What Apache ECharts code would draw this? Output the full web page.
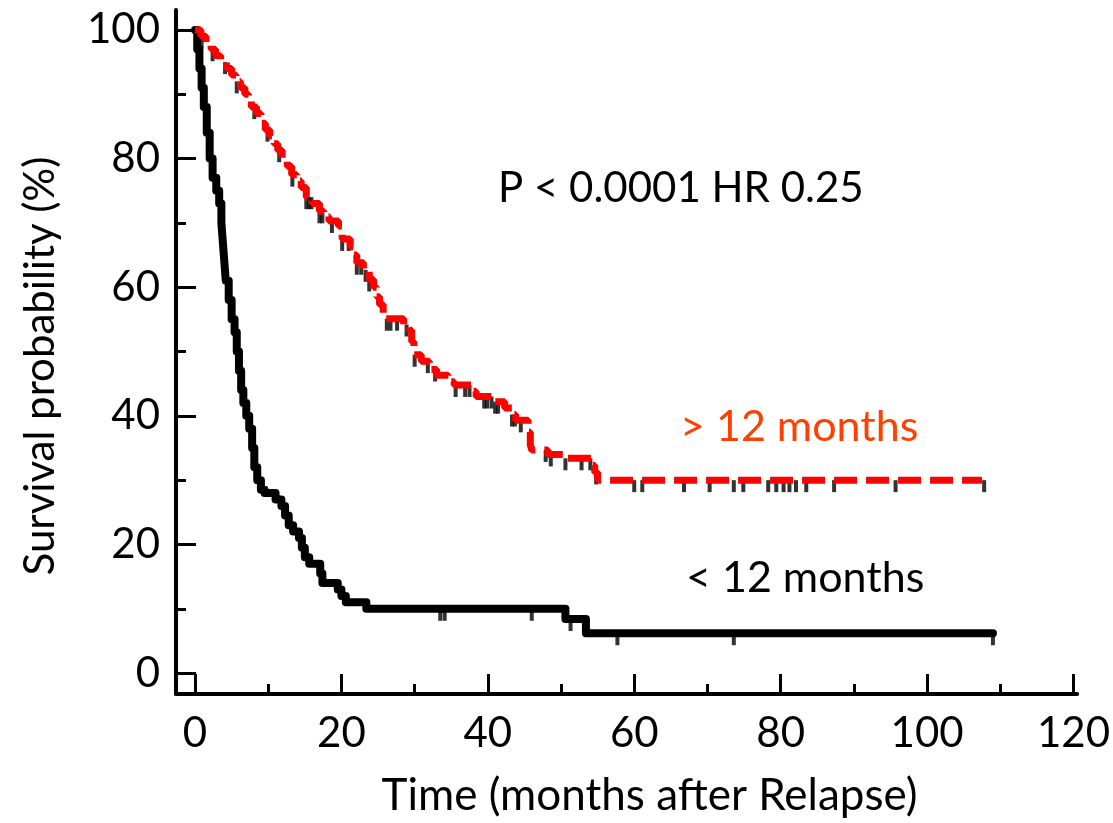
<!DOCTYPE html>
<html>
<head>
<meta charset="utf-8">
<script src="https://cdn.jsdelivr.net/npm/echarts@6/dist/echarts.min.js"></script>
<style>
html,body{margin:0;padding:0;background:#fff;}
#chart{width:1113px;height:823px;}
</style>
</head>
<body>
<div id="chart"></div>
<script>
// ---- data ----
const xTicks = [0, 20, 40, 60, 80, 100, 120];
const xMinorTicks = [10, 30, 50, 70, 90, 110];
const yTicks = [0, 20, 40, 60, 80, 100];
const yMinorTicks = [10, 30, 50, 70, 90];

const xTitle = 'Time (months after Relapse)';
const yTitle = 'Survival probability (%)';
const statsText = 'P < 0.0001 HR 0.25';
const longLabel = '> 12 months';
const shortLabel = '< 12 months';

// Kaplan-Meier steps [time, survival] for relapse < 12 months
const shortSteps = [
  [0,100],[0.3,97],[0.6,94],[0.9,91],[1.2,88],[1.6,84],[2.0,80],[2.4,77],[2.9,75],[3.3,73],
  [3.6,70],[3.8,67],[4.0,64],[4.2,61],[4.6,58],[5.0,55],[5.4,53],[5.7,50],[6.0,47],[6.3,44],
  [6.6,42],[7.0,40],[7.4,38],[7.8,35],[8.1,32],[8.5,30],[9.0,28.5],[9.5,28],[11.0,27],[11.8,26],
  [12.3,24.5],[12.8,23],[13.4,22],[14.2,21],[14.6,19.5],[15.0,18],[15.6,17],[17.1,15.5],[17.4,14],
  [19.5,13],[20.0,12],[20.6,11],[23.4,10],[50.6,8.4],[53.4,6.2],[109,6.2]
];
// Kaplan-Meier steps [time, survival] for relapse > 12 months
const longSteps = [
  [0,100],[0.8,99],[1.5,98],[2.2,97],[2.8,96],[3.5,95],[4.3,94],[5.0,93],[5.6,92],[6.2,91],
  [6.8,90],[7.3,89],[7.7,88],[8.4,87],[9.0,85.5],[9.6,84.5],[10.2,83.5],[10.8,82.3],[11.3,81.3],
  [11.9,80],[12.6,78.8],[13.2,77.5],[13.9,76.5],[14.5,75.5],[15.2,74],[16.0,73],[17.0,71.8],
  [17.6,71],[18.3,70.3],[19.6,69.5],[20.1,67.5],[21.2,66.3],[21.7,65],[22.1,63.8],[23.0,62.7],
  [23.8,61.2],[24.4,60],[24.8,58.5],[25.2,57.3],[25.7,56],[26.1,55.1],[28.5,54.2],[29.3,53.3],
  [29.6,51.5],[29.9,49.5],[30.9,48.5],[32.0,47.2],[33.0,46.3],[34.6,45.3],[35.4,44.8],[37.8,43.8],
  [38.4,43],[41.0,42.2],[42.3,41.2],[43.3,40.2],[43.8,39.3],[45.5,37.5],[45.8,35.5],[46.0,34.7],
  [48.2,34.0],[50.3,33.4],[54.2,32.3],[54.6,31.2],[55.0,30.0],[107.5,30]
];
// censoring times
const shortCensor = [33.5, 34.1, 46.0, 51.3, 57.7, 73.6, 109];
const longCensor = [
  0.9, 2.4, 4.1, 5.7, 8.1, 9.9, 11.5, 13.3, 15.2, 15.6, 15.9, 17.0, 17.4, 18.7, 20.1, 21.0,
  22.1, 22.7, 23.3, 23.8, 26.2, 26.7, 27.6, 28.9, 30.0, 31.8, 32.8, 35.6, 36.9, 37.5, 39.5,
  39.9, 40.5, 41.0, 41.4, 43.3, 43.7, 44.5, 45.7, 47.9, 48.6, 50.6, 52.8, 54.0, 54.8,
  60.0, 61.1, 66.8, 70.3, 73.6, 74.9, 78.3, 79.4, 80.4, 81.2, 82.1, 83.5, 87.3, 95.7, 107.8
];

function survivalAt(steps, t) {
  let s = steps[0][1];
  for (const p of steps) { if (p[0] <= t) s = p[1]; else break; }
  return s;
}

const FONT = 'Lato, Carlito, "Open Sans", sans-serif';
const chart = echarts.init(document.getElementById('chart'), null, {renderer: 'canvas'});

const axisLine = {show: true, onZero: false, lineStyle: {color: '#000', width: 4}};
const option = {
  backgroundColor: '#fff',
  animation: false,
  grid: {left: 176, right: 30, top: 10, bottom: 126, containLabel: false},
  xAxis: [
    {
      type: 'value', min: -2.6, max: 120.5,
      axisLine: axisLine, splitLine: {show: false},
      axisTick: {show: true, inside: true, length: 20, lineStyle: {width: 3, color: '#000'}, customValues: xTicks},
      axisLabel: {show: true, customValues: xTicks, fontFamily: FONT, fontSize: 42, color: '#000', margin: 18},
      name: xTitle, nameLocation: 'middle', nameGap: 80,
      nameTextStyle: {fontFamily: FONT, fontSize: 44, color: '#000', padding: [0, 0, 0, 46]}
    },
    {
      type: 'value', min: -2.6, max: 120.5, position: 'bottom',
      axisLine: {show: false, onZero: false}, splitLine: {show: false}, axisLabel: {show: false},
      axisTick: {show: true, inside: true, length: 10, lineStyle: {width: 3, color: '#000'}, customValues: xMinorTicks}
    }
  ],
  yAxis: [
    {
      type: 'value', min: -3.25, max: 103.1,
      axisLine: axisLine, splitLine: {show: false},
      axisTick: {show: true, inside: true, length: 20, lineStyle: {width: 3, color: '#000'}, customValues: yTicks},
      axisLabel: {show: true, customValues: yTicks, fontFamily: FONT, fontSize: 42, color: '#000', margin: 16}
    },
    {
      type: 'value', min: -3.25, max: 103.1, position: 'left',
      axisLine: {show: false, onZero: false}, splitLine: {show: false}, axisLabel: {show: false},
      axisTick: {show: true, inside: true, length: 10, lineStyle: {width: 3, color: '#000'}, customValues: yMinorTicks}
    }
  ],
  series: [
    {
      type: 'scatter', name: 'long censor', z: 2,
      data: longCensor.map(t => [t, survivalAt(longSteps, t)]),
      symbol: 'rect', symbolSize: [4, 12], symbolOffset: [0, 6],
      itemStyle: {color: '#000'}, silent: true
    },
    {
      type: 'line', name: shortLabel, z: 3, step: 'end', showSymbol: false,
      data: shortSteps,
      lineStyle: {color: '#000', width: 8, join: 'round', cap: 'round'}, silent: true
    },
    {
      type: 'scatter', name: 'short censor', z: 3,
      data: shortCensor.map(t => [t, survivalAt(shortSteps, t)]),
      symbol: 'rect', symbolSize: [4, 12], symbolOffset: [0, 6],
      itemStyle: {color: '#000'}, silent: true
    },
    {
      type: 'line', name: longLabel, z: 4, step: 'end', showSymbol: false,
      data: longSteps,
      lineStyle: {color: '#ff0000', width: 7, type: [23, 9]}, silent: true
    }
  ],
  graphic: [
    {type: 'text', rotation: Math.PI / 2, x: 40, y: 366,
     style: {text: yTitle, fontFamily: FONT, fontSize: 42, fill: '#000', align: 'center', verticalAlign: 'middle'}},
    {type: 'text', x: 498, y: 188, style: {text: statsText, fontFamily: FONT, fontSize: 42, fill: '#000', verticalAlign: 'middle'}},
    {type: 'text', x: 680, y: 427, style: {text: longLabel, fontFamily: FONT, fontSize: 43, fill: '#ff4000', verticalAlign: 'middle'}},
    {type: 'text', x: 686, y: 578, style: {text: shortLabel, fontFamily: FONT, fontSize: 43, fill: '#000', verticalAlign: 'middle'}}
  ]
};
chart.setOption(option);
</script>
</body>
</html>
